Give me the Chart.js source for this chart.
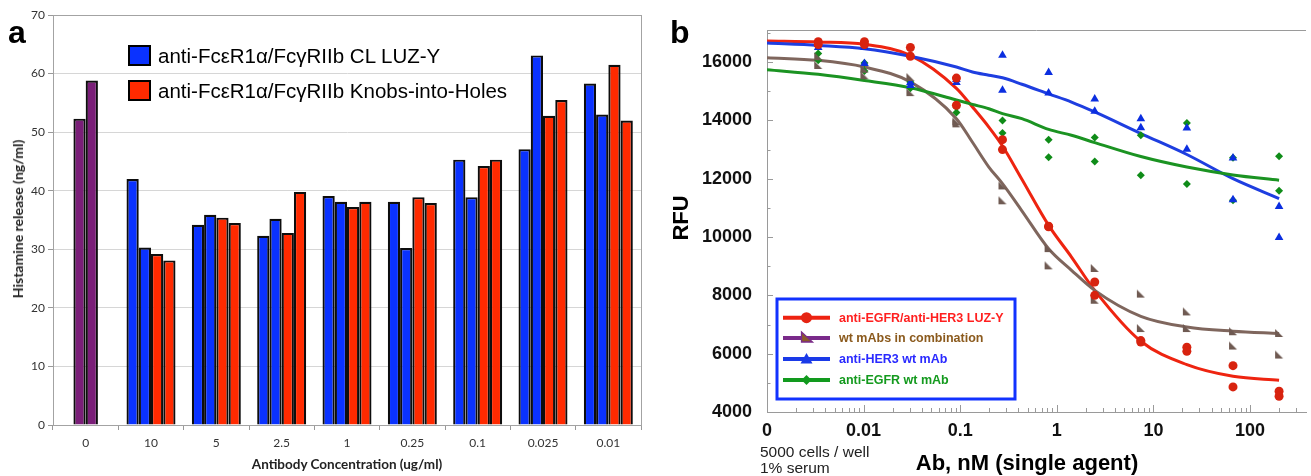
<!DOCTYPE html>
<html><head><meta charset="utf-8">
<script src="https://cdn.jsdelivr.net/npm/chart.js@4.4.1/dist/chart.umd.min.js"></script>
<style>
html,body{margin:0;padding:0;background:#fff;}
body{width:1311px;height:476px;overflow:hidden;position:relative;font-family:"Liberation Sans",Arial,sans-serif;color:#000}
canvas{position:absolute;top:0}
#ca{left:0}
#cb{left:660px}
.t{position:absolute;white-space:nowrap;line-height:1}
.rot{transform:translate(-50%,-50%) rotate(-90deg)}
.ctr{transform:translate(-50%,-50%)}
.box{position:absolute;width:23px;height:21px;border:2px solid #000;box-sizing:border-box}
</style></head><body>
<canvas id="ca" width="660" height="476"></canvas>
<canvas id="cb" width="651" height="476"></canvas>

<div class="t" style="left:8px;top:16px;font-size:32px;font-weight:bold;line-height:32px">a</div>
<div class="t" style="left:670px;top:16px;font-size:32px;font-weight:bold;line-height:32px">b</div>

<div class="box" style="left:128px;top:45px;background:#0a32ff"></div>
<div class="t" style="left:158px;top:45px;font-size:20.5px;line-height:21px">anti-FcεR1α/FcγRIIb CL LUZ-Y</div>
<div class="box" style="left:128px;top:80px;background:#ff2a00"></div>
<div class="t" style="left:158px;top:80px;font-size:20.5px;line-height:21px">anti-FcεR1α/FcγRIIb Knobs-into-Holes</div>

<div class="t rot" style="left:18px;top:219px;font-family:Lato;font-weight:bold;font-size:14px;color:#222">Histamine release (ng/ml)</div>
<div class="t ctr" style="left:347px;top:465px;font-family:Lato;font-weight:bold;font-size:13.5px;color:#222">Antibody Concentration (ug/ml)</div>

<div class="t rot" style="left:681px;top:218px;font-weight:bold;font-size:22px">RFU</div>
<div class="t ctr" style="left:1027px;top:463px;font-weight:bold;font-size:22px">Ab, nM (single agent)</div>
<div class="t" style="left:760px;top:444px;font-size:15.5px;color:#222">5000 cells / well</div>
<div class="t" style="left:760px;top:460px;font-size:15.5px;color:#222">1% serum</div>

<script>
// ---------- Panel a data ----------
const aCategories = ['0','10','5','2.5','1','0.25','0.1','0.025','0.01'];
const aControl = [52.3, 58.8];
const aLuzA = [42.0,34.2,32.3,39.1,38.1,45.3,47.1,58.3];
const aLuzB = [30.3,35.9,35.2,38.1,30.2,38.9,63.1,53.0];
const aKihA = [29.2,35.4,32.8,37.2,38.9,44.2,52.8,61.5];
const aKihB = [28.1,34.5,39.8,38.1,37.9,45.3,55.5,52.0];
const aYTicks = [0,10,20,30,40,50,60,70];

// ---------- Panel b data ----------
const bConc = [0.00339,0.0102,0.0305,0.0914,0.274,0.823,2.47,7.41,22.2,66.7,200];
const luzRep1 = [16700,16700,16500,15450,13340,10370,8460,6450,6220,5590,4710];
const luzRep2 = [16600,16600,16200,14520,13000,10350,8000,6400,6080,4860,4540];
const comboRep1 = [16200,15770,15490,13970,11770,9620,8940,8060,7450,6770,6710];
const comboRep2 = [15900,15550,14970,13900,11260,9030,7850,6880,6880,6280,5970];
const her3Rep1 = [16600,16500,15300,15400,16230,15640,14730,14060,13740,12710,11050];
const her3Rep2 = [16500,15950,15200,15300,15030,14940,14310,13750,13010,11280,9980];
const egfrRep1 = [16290,15970,15320,14450,14000,13340,13410,13490,13910,12720,12770];
const egfrRep2 = [16060,15690,15100,14270,13570,12740,12590,12120,11820,11260,11590];

const fitConc  = [0.001,0.00339,0.0102,0.0305,0.0914,0.134,0.198,0.274,0.435,0.823,1.42,2.47,7.41,22.2,66.7,200];
const fitLuz   = [16720,16690,16610,16230,15100,14460,13770,13120,11980,10400,9315,8170,6425,5625,5225,5090];
const fitCombo = [16150,16060,15830,15320,14060,13250,12400,11830,10900,9600,8860,8170,7280,6915,6770,6690];
const fitHer3  = [16650,16570,16460,16200,15830,15660,15550,15460,15240,14910,14630,14290,13550,12830,12000,11320];
const fitEgfr  = [15740,15580,15370,15120,14700,14550,14400,14230,14060,13690,13490,13240,12760,12400,12130,11950];

const bMajorVals = [0.001,0.01,0.1,1,10,100];
const bMajorText = ['0','0.01','0.1','1','10','100'];
const bYTickText = ['4000','6000','8000','10000','12000','14000','16000'];
const bLegendLabels = ['anti-EGFR/anti-HER3 LUZ-Y','wt mAbs in combination','anti-HER3 wt mAb','anti-EGFR wt mAb'];

// ---------- Panel a chart ----------
const cBlue='#0a32ff', cRed='#ff2a00', cPurple='#7a1e78';
const colorsFor=(first,rest)=>aCategories.map((_,i)=>i===0?first:rest);
const frameA = {
  id:'frameA',
  beforeDatasetsDraw(chart){
    const {ctx, chartArea:a} = chart;
    ctx.save(); ctx.strokeStyle='#a3a3a3'; ctx.lineWidth=1;
    ctx.strokeRect(Math.round(a.left)+0.5, Math.round(a.top)+0.5, Math.round(a.right-a.left), Math.round(a.bottom-a.top));
    ctx.restore();
  }
};
new Chart(document.getElementById('ca'),{
  type:'bar',
  data:{labels:aCategories,datasets:[
    {data:[null,...aLuzA],backgroundColor:cBlue},
    {data:[aControl[0],...aLuzB],backgroundColor:colorsFor(cPurple,cBlue)},
    {data:[aControl[1],...aKihA],backgroundColor:colorsFor(cPurple,cRed)},
    {data:[null,...aKihB],backgroundColor:cRed}
  ].map(d=>Object.assign(d,{borderColor:'#0d0d0d',borderWidth:2.2,categoryPercentage:0.75,barPercentage:1}))},
  options:{responsive:false,animation:false,
    layout:{padding:{top:15,right:19,left:0,bottom:0}},
    plugins:{legend:{display:false},tooltip:{enabled:false}},
    scales:{
      x:{grid:{offset:true,drawOnChartArea:false,tickLength:5,tickColor:'#999'},border:{color:'#999'},
         ticks:{color:'#333',font:{family:'Lato',size:12},padding:6,maxRotation:0},
         afterFit(s){s.height=51;}},
      y:{min:0,max:70,grid:{color:'#d6d6d6',tickLength:5,tickColor:'#999'},border:{color:'#999'},
         afterBuildTicks(s){s.ticks=aYTicks.map(v=>({value:v}));},
         ticks:{color:'#333',font:{family:'Lato',size:12},padding:3},
         afterFit(s){s.width=53;}}
    }},
  plugins:[frameA]
});

// ---------- Panel b chart ----------
const bXTicks=[];
bMajorVals.forEach((m,i)=>{
  bXTicks.push({v:m,t:bMajorText[i]});
  for(let k=2;k<=9;k++){ if(m*k<=380) bXTicks.push({v:m*k,t:''}); }
});
const bYTicks=[];
for(let v=4000; v<=17000; v+=500){ bYTicks.push({v, t: v%2000===0 ? bYTickText[(v-4000)/2000] : ''}); }

function cornerTri(fill, stroke, size){
  const c=document.createElement('canvas'); c.width=size; c.height=size;
  const g=c.getContext('2d');
  g.beginPath(); g.moveTo(1,1); g.lineTo(1,size-1); g.lineTo(size-1,size-1); g.closePath();
  g.fillStyle=fill; g.fill();
  if(stroke){g.strokeStyle=stroke; g.lineWidth=1.2; g.stroke();}
  return c;
}
const brownMarker = cornerTri('#6f5a52', null, 10);
const pts=(r1,r2)=>bConc.map((x,i)=>({x,y:r1[i]})).concat(bConc.map((x,i)=>({x,y:r2[i]})));
const fit=(arr)=>fitConc.map((x,i)=>({x,y:arr[i]}));

const lineStyle={showLine:true,pointRadius:0,borderWidth:3,cubicInterpolationMode:'monotone',order:2,fill:false};
const datasetsB=[
  {data:pts(luzRep1,luzRep2),pointStyle:'circle',pointRadius:4.5,backgroundColor:'#d8230f',borderColor:'#d8230f',borderWidth:0,order:1},
  {data:pts(comboRep1,comboRep2),pointStyle:brownMarker,backgroundColor:'#6f5a52',borderColor:'#6f5a52',order:1},
  {data:pts(her3Rep1,her3Rep2),pointStyle:'triangle',pointRadius:5,backgroundColor:'#0b2ee0',borderColor:'#0b2ee0',borderWidth:0,order:1},
  {data:pts(egfrRep1,egfrRep2),pointStyle:'rectRot',pointRadius:4,backgroundColor:'#0f8c18',borderColor:'#0f8c18',borderWidth:0,order:1},
  Object.assign({data:fit(fitEgfr),borderColor:'#1b9322'},lineStyle),
  Object.assign({data:fit(fitHer3),borderColor:'#1e3ee0'},lineStyle),
  Object.assign({data:fit(fitCombo),borderColor:'#7f665d'},lineStyle),
  Object.assign({data:fit(fitLuz),borderColor:'#ee2410'},lineStyle)
];

const legendB=[
  {line:'#ee2211',text:'#ff1f1f',marker:'circle',fill:'#e52412'},
  {line:'#7a2a8a',text:'#8b5a1d',marker:'corner',fill:'#8a5a2a',stroke:'#7a2a8a'},
  {line:'#1a3ae8',text:'#2a2aff',marker:'triangle',fill:'#1a3ae8'},
  {line:'#129a1e',text:'#149a1e',marker:'diamond',fill:'#129a1e'}
];
const axisB={
  id:'axisB',
  afterDraw(chart){
    const {ctx, chartArea:a, scales:{x,y}} = chart;
    ctx.save();
    ctx.strokeStyle='#9a9a9a'; ctx.lineWidth=1;
    ctx.beginPath();
    ctx.moveTo(a.left, Math.round(a.top)+0.5); ctx.lineTo(a.right, Math.round(a.top)+0.5);
    x.ticks.forEach(t=>{
      const lg=Math.log10(t.value); const major=Math.abs(lg-Math.round(lg))<1e-6;
      const px=Math.round(x.getPixelForValue(t.value))+0.5;
      ctx.moveTo(px,a.bottom); ctx.lineTo(px,a.bottom-(major?7:4));
    });
    y.ticks.forEach(t=>{
      const major=t.value%2000===0;
      const py=Math.round(y.getPixelForValue(t.value))+0.5;
      ctx.moveTo(a.left,py); ctx.lineTo(a.left+(major?6:3.5),py);
    });
    ctx.stroke();
    // legend
    const bx=117, by=299, bw=238, bh=100;
    ctx.lineWidth=3; ctx.strokeStyle='#1232ff';
    ctx.strokeRect(bx,by,bw,bh);
    const rows=[317.7,338,359,380];
    legendB.forEach((L,i)=>{
      const yy=rows[i];
      ctx.strokeStyle=L.line; ctx.lineWidth=4;
      ctx.beginPath(); ctx.moveTo(123,yy); ctx.lineTo(170,yy); ctx.stroke();
      const mx=146.5;
      ctx.fillStyle=L.fill;
      ctx.beginPath();
      if(L.marker==='circle'){ ctx.arc(mx,yy,5.5,0,Math.PI*2); ctx.fill(); }
      else if(L.marker==='triangle'){ ctx.moveTo(mx,yy-6); ctx.lineTo(mx+6,yy+4.5); ctx.lineTo(mx-6,yy+4.5); ctx.closePath(); ctx.fill(); }
      else if(L.marker==='diamond'){ ctx.moveTo(mx,yy-5); ctx.lineTo(mx+5,yy); ctx.lineTo(mx,yy+5); ctx.lineTo(mx-5,yy); ctx.closePath(); ctx.fill(); }
      else { ctx.moveTo(mx-5,yy-6); ctx.lineTo(mx-5,yy+4); ctx.lineTo(mx+6,yy+4); ctx.closePath(); ctx.fill(); ctx.strokeStyle=L.stroke; ctx.lineWidth=1.3; ctx.stroke(); }
      ctx.fillStyle=L.text;
      ctx.font='bold 12.5px "Liberation Sans", Arial, sans-serif';
      ctx.textBaseline='middle'; ctx.textAlign='left';
      ctx.fillText(bLegendLabels[i],179,yy+0.5);
    });
    ctx.restore();
  }
};
const tickFontB={family:'"Liberation Sans", Arial, sans-serif',size:18,weight:'bold'};
new Chart(document.getElementById('cb'),{
  type:'scatter',
  data:{datasets:datasetsB},
  options:{responsive:false,animation:false,
    layout:{padding:{top:30,right:0,left:0,bottom:0}},
    plugins:{legend:{display:false},tooltip:{enabled:false}},
    scales:{
      x:{type:'logarithmic',min:0.001,max:380,
         afterBuildTicks(s){s.ticks=bXTicks.map(o=>({value:o.v}));},
         ticks:{autoSkip:false,maxRotation:0,padding:8,font:tickFontB,color:'#111',callback:(v,i)=>bXTicks[i]?bXTicks[i].t:''},
         grid:{display:false,drawTicks:false},border:{color:'#9a9a9a'},
         afterFit(s){s.height=64;}},
      y:{min:4000,max:17100,
         afterBuildTicks(s){s.ticks=bYTicks.map(o=>({value:o.v}));},
         ticks:{padding:15,font:tickFontB,color:'#111',callback:(v,i)=>bYTicks[i]?bYTicks[i].t:''},
         grid:{display:false,drawTicks:false},border:{color:'#9a9a9a'},
         afterFit(s){s.width=107;}}
    }},
  plugins:[axisB]
});
</script>
</body></html>
